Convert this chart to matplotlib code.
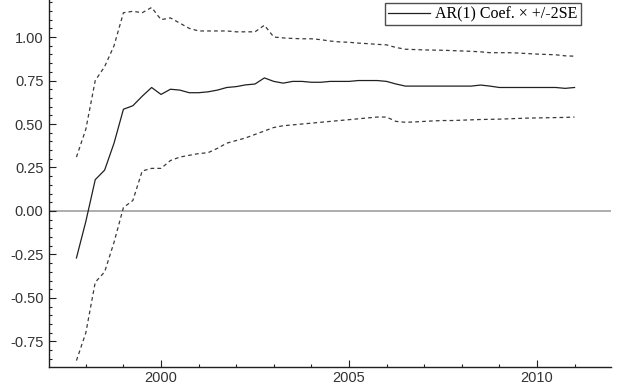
import numpy as np
import matplotlib.pyplot as plt
from matplotlib.ticker import MultipleLocator, FormatStrFormatter

# quarterly recursive estimates, 1997Q4 .. 2011Q1
start_year = 1997.75
coef = [-0.27, -0.06, 0.18, 0.235, 0.39, 0.585, 0.605, 0.66, 0.71, 0.67,
        0.70, 0.695, 0.68, 0.68, 0.685, 0.695, 0.71, 0.715, 0.725, 0.73,
        0.765, 0.745, 0.735, 0.745, 0.745, 0.74, 0.74, 0.745, 0.745, 0.745,
        0.75, 0.75, 0.75, 0.745, 0.73, 0.718, 0.718, 0.718, 0.718, 0.718,
        0.718, 0.718, 0.718, 0.724, 0.718, 0.71, 0.71, 0.71, 0.71, 0.71,
        0.71, 0.71, 0.705, 0.71]
upper = [0.31, 0.47, 0.75, 0.83, 0.95, 1.14, 1.148, 1.14, 1.17, 1.10,
         1.11, 1.08, 1.05, 1.035, 1.035, 1.035, 1.035, 1.03, 1.03, 1.03,
         1.068, 1.0, 0.995, 0.992, 0.99, 0.99, 0.985, 0.977, 0.972, 0.97,
         0.965, 0.962, 0.958, 0.955, 0.94, 0.93, 0.928, 0.926, 0.925, 0.924,
         0.922, 0.92, 0.918, 0.915, 0.91, 0.91, 0.91, 0.908, 0.905, 0.902,
         0.9, 0.898, 0.892, 0.89]
lower = [-0.86, -0.70, -0.41, -0.35, -0.18, 0.02, 0.06, 0.23, 0.245, 0.245,
         0.29, 0.31, 0.32, 0.33, 0.335, 0.36, 0.39, 0.405, 0.42, 0.44,
         0.46, 0.48, 0.49, 0.495, 0.5, 0.505, 0.51, 0.515, 0.52, 0.525,
         0.53, 0.535, 0.54, 0.54, 0.515, 0.51, 0.512, 0.515, 0.518, 0.52,
         0.52, 0.522, 0.524, 0.526, 0.527, 0.528, 0.53, 0.532, 0.534, 0.535,
         0.536, 0.537, 0.538, 0.54]

years = start_year + 0.25 * np.arange(len(coef))

fig = plt.figure(figsize=(6.18, 3.91), dpi=100)
ax = fig.add_axes([49 / 618, 1 - 367 / 391, 562 / 618, 367 / 391])

ax.axhline(0, color='#a0a0a0', lw=1.2, zorder=1)
ax.plot(years, coef, color='#202020', lw=0.9, label='AR(1) Coef. \u00d7 +/-2SE')
ax.plot(years, upper, color='#3a3a3a', lw=0.9, ls=(0, (3, 2.5)))
ax.plot(years, lower, color='#3a3a3a', lw=0.9, ls=(0, (3, 2.5)))

ax.set_xlim(1997.02, 2011.97)
ax.set_ylim(-0.897, 1.213)

ax.xaxis.set_major_locator(MultipleLocator(5))
ax.xaxis.set_minor_locator(MultipleLocator(1))
ax.yaxis.set_major_locator(MultipleLocator(0.25))
ax.yaxis.set_minor_locator(MultipleLocator(0.05))
ax.yaxis.set_major_formatter(FormatStrFormatter('%.2f'))

for side in ('top', 'right'):
    ax.spines[side].set_visible(False)
for side in ('left', 'bottom'):
    ax.spines[side].set_color('#202020')
    ax.spines[side].set_linewidth(1.0)

ax.tick_params(which='major', direction='in', length=5, width=0.8,
               labelsize=10.5, labelcolor='#333333', color='#202020')
ax.tick_params(which='minor', direction='in', length=2.5, width=0.8,
               color='#202020')
for lab in ax.get_xticklabels() + ax.get_yticklabels():
    lab.set_family('Liberation Sans')
ax.tick_params(axis='y', pad=4)
ax.tick_params(axis='x', pad=3)

leg = ax.legend(loc='upper right', bbox_to_anchor=(532 / 562, 1 - 3 / 367),
                frameon=True, fancybox=False, handlelength=2.6,
                handletextpad=0.35, borderpad=0.2, borderaxespad=0,
                prop={'family': 'Liberation Serif', 'size': 11.5})
leg.get_frame().set_edgecolor('#202020')
leg.get_frame().set_linewidth(1.0)

fig.savefig('out.png', dpi=100)
